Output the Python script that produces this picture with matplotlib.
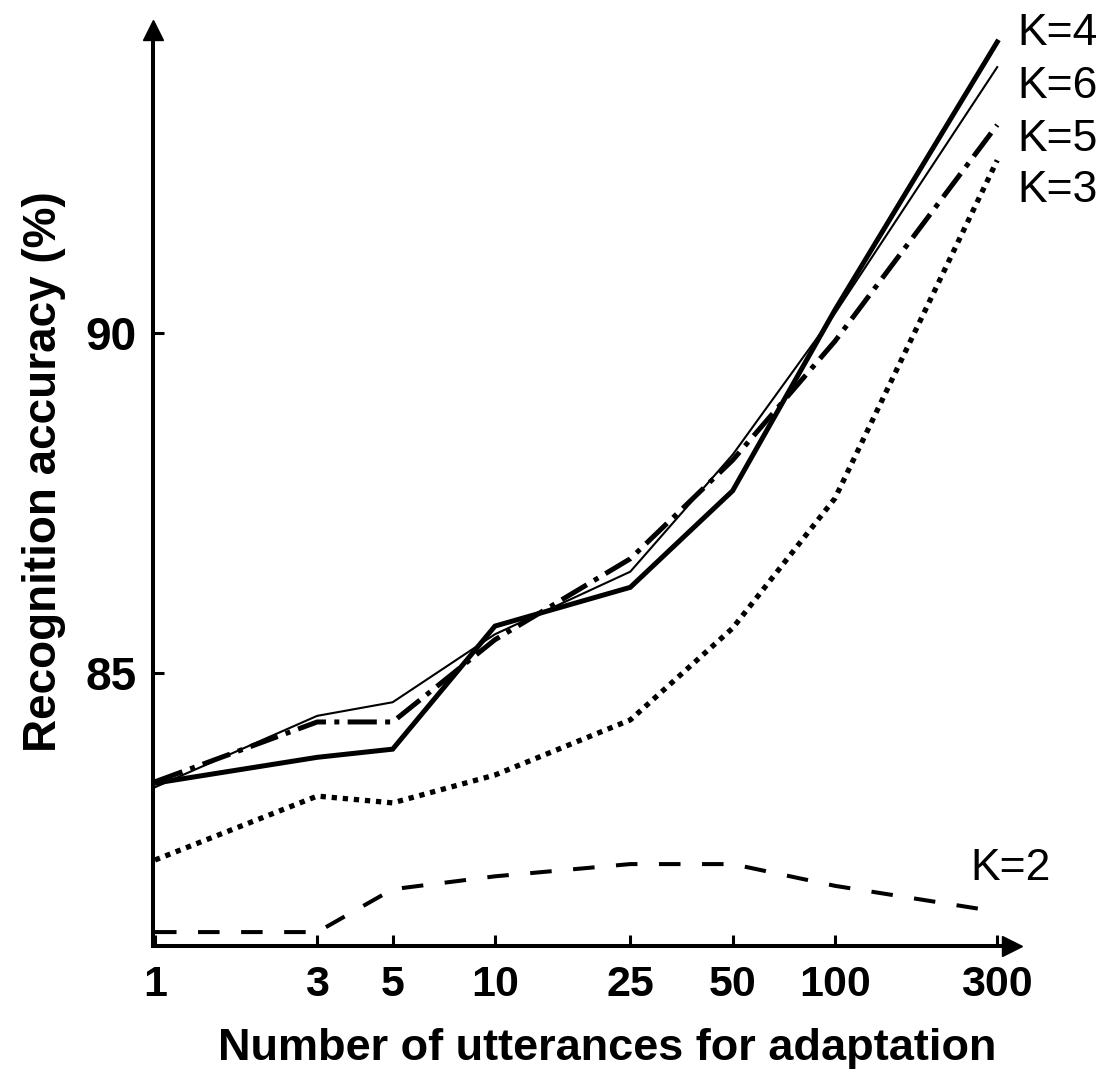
import matplotlib

matplotlib.use("Agg")
import matplotlib.pyplot as plt

plt.rcParams["font.family"] = ["Liberation Sans", "DejaVu Sans"]
plt.rcParams["lines.scale_dashes"] = False

# Data
utterances = [1, 3, 5, 10, 25, 50, 100, 300]
k4 = [83.38, 83.76, 83.88, 85.69, 86.26, 87.68, 90.34, 94.28]
k6 = [83.32, 84.37, 84.57, 85.57, 86.49, 88.21, 90.29, 93.91]
k5 = [83.40, 84.28, 84.28, 85.49, 86.68, 88.13, 89.88, 93.06]
k3 = [82.25, 83.19, 83.09, 83.50, 84.31, 85.66, 87.57, 92.54]
k2 = [81.19, 81.19, 81.82, 82.01, 82.19, 82.19, 81.87, 81.49]
tick_vals = [1, 3, 5, 10, 25, 50, 100, 300]
ytick_vals = [85, 90]

W, H = 1106, 1082
fig = plt.figure(figsize=(W / 100, H / 100), dpi=100)

# axes placed in pixel terms
left, right, bottom, top = 153, 1012, 946, 30
ax = fig.add_axes([left / W, 1 - bottom / H, (right - left) / W, (bottom - top) / H])

ax.set_xscale("log")
ax.set_xlim(0.9866, 10 ** ((right - 155) / 340))
ax.set_ylim(85 - (bottom - 673) / 68, 90 + (333 - top) / 68)

ax.plot(utterances, k4, color="black", lw=3.6, solid_joinstyle="miter")
ax.plot(utterances, k6, color="black", lw=1.5)
ax.plot(utterances, k5, color="black", lw=3.6, dashes=(21, 6, 3.6, 6))
ax.plot(utterances, k3, color="black", lw=3.8, dashes=(3.8, 4.2))
ax.plot(utterances, k2, color="black", lw=2.9, dashes=(15.5, 15.5))

# curve labels
label_kw = dict(fontsize=32, ha="left", va="center", clip_on=False)
ax.text(345, 94.41, "K=4", **label_kw)
ax.text(345, 93.62, "K=6", **label_kw)
ax.text(345, 92.84, "K=5", **label_kw)
ax.text(345, 92.10, "K=3", **label_kw)
ax.text(250, 82.12, "K=2", **label_kw)

# axes styling: only left/bottom spines with arrowheads
for side in ("top", "right"):
    ax.spines[side].set_visible(False)
for side in ("left", "bottom"):
    ax.spines[side].set_linewidth(2.9)
ax.plot(1, 0, ">", color="black", markersize=14, transform=ax.transAxes, clip_on=False)
ax.plot(0, 1, "^", color="black", markersize=14, transform=ax.transAxes, clip_on=False)

ax.set_xticks(tick_vals)
ax.set_xticklabels([str(v) for v in tick_vals])
ax.minorticks_off()
ax.set_yticks(ytick_vals)
ax.tick_params(direction="in", length=8, width=2.2, pad=14)
ax.tick_params(axis="x", labelsize=31)
ax.tick_params(axis="y", labelsize=33, pad=12)
for lab in ax.get_xticklabels() + ax.get_yticklabels():
    lab.set_fontweight("bold")

ax.set_xlabel("Number of utterances for adaptation", fontsize=32.5, fontweight="bold", labelpad=16)
ax.set_ylabel("Recognition accuracy (%)", fontsize=33, fontweight="bold", labelpad=14)
ax.xaxis.label.set_x(0.5 + 25 / (right - left))
ax.yaxis.label.set_y(0.5 + 16 / (bottom - top))

fig.savefig("out.png", dpi=100)
